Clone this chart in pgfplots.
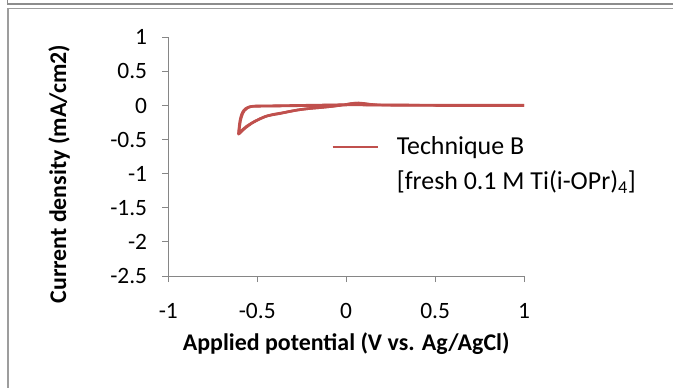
\documentclass[border=0pt]{standalone}
\usepackage{fontspec}
\setmainfont{Carlito}
\usepackage{pgfplots}
\pgfplotsset{compat=1.18}
\definecolor{cvred}{HTML}{C0504D}
\definecolor{axgray}{HTML}{868686}
\definecolor{framegray}{HTML}{8C8C8C}
\begin{document}
\begin{tikzpicture}[x=1bp,y=1bp]
\useasboundingbox (0,0) rectangle (673,387);
\fill[white] (0,0) rectangle (673,387);
\draw[framegray, line width=1.3bp] (7.5,395) -- (7.5,383) -- (690,383);
\draw[framegray!85, line width=1.2bp] (8,-10) -- (8,378.5) -- (690,378.5);
\begin{axis}[
  at={(168.3bp,111bp)}, anchor=south west, scale only axis,
  width=355.7bp, height=238.7bp,
  xmin=-1, xmax=1, ymin=-2.5, ymax=1,
  axis lines=left,
  axis line style={-, axgray, line width=1bp},
  tick align=outside, major tick length=6bp,
  tick style={axgray, line width=1bp},
  xtick={-1,-0.5,0,0.5,1},
  xticklabels={-1,-0.5,0,0.5,1},
  ytick={-2.5,-2,-1.5,-1,-0.5,0,0.5,1},
  yticklabels={-2.5,-2,-1.5,-1,-0.5,0,0.5,1},
  ticklabel style={font=\fontsize{23.5}{27}\selectfont, text=black},
  yticklabel style={anchor=east, inner sep=0pt, xshift=-15bp},
  xticklabel style={anchor=north, inner sep=0pt, yshift=-21bp},
  xlabel={\textbf{Applied potential (V vs. Ag/AgCl)}},
  ylabel={\textbf{Current density (mA/cm2)}},
  label style={font=\fontsize{24}{28}\selectfont},
  x label style={at={(axis description cs:0.5,-0.285)}, anchor=center},
  y label style={at={(axis description cs:-0.307,0.427)}, anchor=center},
  legend style={draw=none, fill=none, at={(0.449,0.6)}, anchor=north west,
    font=\fontsize{26}{35}\selectfont, nodes={align=left}},
  legend cell align=left,
  legend image code/.code={\draw[#1, line width=2.6bp] (0bp,17bp) -- (45bp,17bp);\path (61bp,17bp);},
]
\addplot[cvred, line width=2.6bp, line join=round, smooth, tension=0.4] coordinates {
(1,0) (0.8,0) (0.6,0.002) (0.4,0.003) (0.2,0.005) (0.1,0.008) (0.0,0.008)
(-0.1,0.004) (-0.2,0.0) (-0.3,-0.004) (-0.4,-0.008) (-0.47,-0.01) (-0.52,-0.012)
(-0.545,-0.02) (-0.565,-0.045) (-0.578,-0.08) (-0.588,-0.13) (-0.597,-0.22)
(-0.602,-0.32) (-0.605,-0.42)
(-0.59,-0.385) (-0.567,-0.33) (-0.53,-0.26) (-0.492,-0.205) (-0.454,-0.16)
(-0.41,-0.135) (-0.38,-0.122) (-0.33,-0.095) (-0.27,-0.065) (-0.21,-0.045)
(-0.153,-0.032) (-0.1,-0.018) (-0.04,0.0) (0.0,0.014) (0.03,0.028) (0.06,0.034)
(0.09,0.03) (0.13,0.016) (0.2,0.006) (0.4,0.002) (0.6,0.0) (1,0)
};
\addlegendentry{Technique B\\{[}fresh 0.1 M Ti(i-OPr)\textsubscript{4}]}
\addplot[cvred, line width=2.6bp, line join=round, smooth, tension=0.4, forget plot] coordinates {
(1,0.004) (0.8,0.004) (0.6,0.005) (0.4,0.006) (0.2,0.009) (0.1,0.012) (0.0,0.012)
(-0.1,0.008) (-0.2,0.004) (-0.3,0.0) (-0.4,-0.004) (-0.47,-0.006) (-0.51,-0.008)
(-0.535,-0.015) (-0.557,-0.04) (-0.572,-0.075) (-0.583,-0.125) (-0.593,-0.21)
(-0.599,-0.31) (-0.602,-0.40)
(-0.585,-0.36) (-0.56,-0.305) (-0.52,-0.24) (-0.48,-0.19) (-0.44,-0.15)
(-0.40,-0.125) (-0.36,-0.108) (-0.31,-0.082) (-0.25,-0.057) (-0.19,-0.04)
(-0.13,-0.026) (-0.08,-0.013) (-0.03,0.004) (0.01,0.02) (0.04,0.032) (0.07,0.036)
(0.1,0.03) (0.14,0.016) (0.2,0.008) (0.4,0.005) (0.6,0.004) (1,0.004)
};
\end{axis}
\end{tikzpicture}
\end{document}
